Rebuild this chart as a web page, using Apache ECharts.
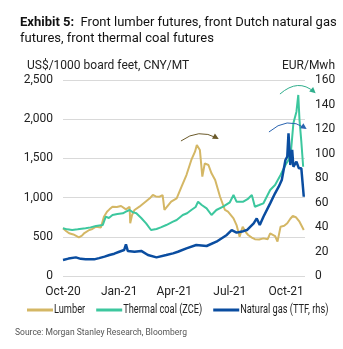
<!DOCTYPE html>
<html>
<head>
<meta charset="utf-8">
<script src="https://cdn.jsdelivr.net/npm/echarts@6/dist/echarts.min.js"></script>
<style>
  html, body { margin: 0; padding: 0; background: #fff; }
  #chart { width: 343px; height: 349px; }
</style>
</head>
<body>
<div id="chart"></div>
<script>
// Front lumber futures (US$/1000 board feet)
const lumber = [
  ['2020-10-01', 608], ['2020-10-06', 575], ['2020-10-11', 545], ['2020-10-18', 530],
  ['2020-10-27', 494], ['2020-11-01', 515], ['2020-11-05', 548], ['2020-11-13', 587],
  ['2020-11-18', 600], ['2020-11-24', 629], ['2020-12-02', 620], ['2020-12-07', 757],
  ['2020-12-12', 820], ['2020-12-16', 850], ['2020-12-21', 884], ['2020-12-28', 880],
  ['2021-01-04', 893], ['2021-01-12', 850], ['2021-01-18', 884], ['2021-01-19', 672],
  ['2021-01-22', 778], ['2021-01-26', 842], ['2021-02-03', 884], ['2021-02-11', 935],
  ['2021-02-20', 991], ['2021-02-25', 1033], ['2021-03-02', 1015], ['2021-03-08', 1011],
  ['2021-03-13', 1033], ['2021-03-15', 1010], ['2021-03-16', 842], ['2021-03-22', 900],
  ['2021-03-27', 948], ['2021-04-05', 991], ['2021-04-13', 1139], ['2021-04-21', 1288],
  ['2021-04-29', 1480], ['2021-05-05', 1586], ['2021-05-08', 1671], ['2021-05-13', 1607],
  ['2021-05-17', 1267], ['2021-05-21', 1437], ['2021-05-27', 1416], ['2021-06-01', 1310],
  ['2021-06-07', 1224], ['2021-06-15', 1011], ['2021-06-23', 842], ['2021-06-28', 820],
  ['2021-07-07', 736], ['2021-07-12', 650], ['2021-07-17', 501], ['2021-07-22', 629],
  ['2021-07-27', 560], ['2021-07-31', 523], ['2021-08-06', 490], ['2021-08-11', 470],
  ['2021-08-18', 465], ['2021-08-25', 480], ['2021-09-01', 470], ['2021-09-05', 545],
  ['2021-09-13', 510], ['2021-09-17', 438], ['2021-09-22', 629], ['2021-09-28', 640],
  ['2021-10-03', 672], ['2021-10-08', 730], ['2021-10-12', 765], ['2021-10-17', 750],
  ['2021-10-23', 693], ['2021-10-30', 587]
];

// Front thermal coal futures, ZCE (CNY/MT)
const thermalCoal = [
  ['2020-10-01', 608], ['2020-10-08', 595], ['2020-10-16', 587], ['2020-10-25', 595],
  ['2020-11-07', 608], ['2020-11-15', 620], ['2020-11-24', 638], ['2020-12-05', 650],
  ['2020-12-10', 757], ['2020-12-15', 740], ['2020-12-21', 778], ['2020-12-29', 790],
  ['2021-01-07', 800], ['2021-01-12', 820], ['2021-01-18', 842], ['2021-01-23', 815],
  ['2021-01-29', 800], ['2021-02-06', 740], ['2021-02-14', 672], ['2021-02-22', 587],
  ['2021-03-03', 600], ['2021-03-10', 620], ['2021-03-19', 650], ['2021-03-30', 693],
  ['2021-04-05', 714], ['2021-04-15', 778], ['2021-04-22', 800], ['2021-04-29', 842],
  ['2021-05-06', 880], ['2021-05-10', 948], ['2021-05-16', 906], ['2021-05-24', 863],
  ['2021-06-01', 778], ['2021-06-09', 842], ['2021-06-20', 884], ['2021-07-01', 940],
  ['2021-07-07', 1033], ['2021-07-12', 948], ['2021-07-23', 948], ['2021-07-30', 980],
  ['2021-08-06', 1033], ['2021-08-11', 884], ['2021-08-18', 905], ['2021-08-25', 927],
  ['2021-09-05', 1097], ['2021-09-13', 1161], ['2021-09-22', 1288], ['2021-09-30', 1416],
  ['2021-10-05', 1480], ['2021-10-09', 1586], ['2021-10-13', 1948], ['2021-10-18', 2096],
  ['2021-10-21', 2309], ['2021-10-23', 1990], ['2021-10-26', 1713], ['2021-10-29', 1394]
];

// Front Dutch natural gas futures, TTF (EUR/MWh, right axis)
const naturalGas = [
  ['2020-10-01', 13.1], ['2020-10-10', 14.2], ['2020-10-22', 15.2], ['2020-10-30', 14.0],
  ['2020-11-07', 13.6], ['2020-11-21', 13.6], ['2020-11-29', 14.6], ['2020-12-08', 15.8],
  ['2020-12-16', 17.1], ['2020-12-24', 18.2], ['2021-01-01', 19.8], ['2021-01-09', 21.2],
  ['2021-01-12', 25.8], ['2021-01-15', 20.5], ['2021-01-26', 19.8], ['2021-02-06', 20.5],
  ['2021-02-17', 17.1], ['2021-03-03', 15.2], ['2021-03-19', 17.1], ['2021-03-30', 18.5],
  ['2021-04-07', 19.8], ['2021-04-21', 22.6], ['2021-05-07', 25.3], ['2021-05-24', 24.5],
  ['2021-06-09', 28.0], ['2021-06-26', 33.5], ['2021-07-04', 37.5], ['2021-07-12', 35.4],
  ['2021-07-23', 36.6], ['2021-07-29', 37.5], ['2021-08-09', 43.0], ['2021-08-14', 47.0],
  ['2021-08-19', 41.6], ['2021-08-25', 48.4], ['2021-09-05', 59.3], ['2021-09-13', 67.5],
  ['2021-09-19', 72.9], ['2021-09-24', 78.4], ['2021-09-30', 94.7], ['2021-10-03', 97.4],
  ['2021-10-05', 116.5], ['2021-10-08', 90.6], ['2021-10-11', 102.9], ['2021-10-13', 89.2],
  ['2021-10-18', 93.3], ['2021-10-22', 87.9], ['2021-10-26', 87.9], ['2021-10-30', 64.7]
];

// Quarter starts shown on the date axis
const quarterTicks = ['2020-10-01', '2021-01-01', '2021-04-01', '2021-07-01', '2021-10-01'];
const monthNames = ['Jan', 'Feb', 'Mar', 'Apr', 'May', 'Jun', 'Jul', 'Aug', 'Sep', 'Oct', 'Nov', 'Dec'];

// Series names and colours
const seriesNames = ['Lumber', 'Thermal coal (ZCE)', 'Natural gas (TTF, rhs)'];
const seriesColors = ['#d4b765', '#3cc79e', '#0a4da0'];

// Curved arrows: start, control and end points in (date, left-axis value)
const arrows = [
  { color: '#6b5a2a', from: ['2021-04-12', 1722], ctrl: ['2021-05-11', 1888], to: ['2021-06-10', 1760] },
  { color: '#2fae8c', from: ['2021-09-21', 2321], ctrl: ['2021-10-21', 2525], to: ['2021-11-16', 2347] },
  { color: '#2a64b0', from: ['2021-09-03', 1837], ctrl: ['2021-10-03', 2041], to: ['2021-11-01', 1888] }
];

const FONT = 'Roboto';
const ts = s => new Date(s + 'T00:00:00Z').getTime();
const toPairs = arr => arr.map(d => [ts(d[0]), d[1]]);

const chart = echarts.init(document.getElementById('chart'), null, { renderer: 'canvas' });

// Legend row: short line swatch followed by a slightly condensed label
const measureCtx = document.createElement('canvas').getContext('2d');
measureCtx.font = '12px ' + FONT;
const LEGEND_SCALE = 0.77;
const legendGraphics = [];
let lx = 27;
seriesNames.forEach((name, i) => {
  legendGraphics.push({
    type: 'rect', silent: true,
    shape: { x: lx, y: 308.5, width: 26, height: 3 },
    style: { fill: seriesColors[i] }
  });
  lx += 27;
  legendGraphics.push({
    type: 'text', silent: true, x: lx, y: 310, scaleX: LEGEND_SCALE,
    style: { text: name, fontFamily: FONT, fontSize: 12, fill: '#222', verticalAlign: 'middle', align: 'left' }
  });
  lx += measureCtx.measureText(name).width * LEGEND_SCALE + 11;
});

const option = {
  backgroundColor: '#ffffff',
  animation: false,
  textStyle: { fontFamily: FONT },
  title: {
    left: 15, top: 10,
    text: '{b|Exhibit 5:}  Front lumber futures, front Dutch natural gas\nfutures, front thermal coal futures',
    textStyle: {
      fontFamily: FONT, fontSize: 13, fontWeight: 'normal', color: '#111', lineHeight: 16,
      rich: { b: { fontFamily: FONT, fontSize: 13, fontWeight: 'bold', color: '#111', lineHeight: 16 } }
    }
  },
  grid: { left: 63, right: 38, top: 80, bottom: 73, containLabel: false },
  xAxis: {
    type: 'value',
    min: ts('2020-10-01'), max: ts('2021-11-01'),
    axisLine: { show: false },
    axisTick: { show: false },
    splitLine: { show: false },
    axisLabel: {
      customValues: quarterTicks.map(ts),
      margin: 10,
      fontFamily: FONT, fontSize: 12, color: '#222',
      hideOverlap: false,
      formatter: v => {
        const d = new Date(v);
        return monthNames[d.getUTCMonth()] + '-' + String(d.getUTCFullYear()).slice(2);
      }
    }
  },
  yAxis: [
    {
      type: 'value', min: 0, max: 2500, interval: 500,
      axisLine: { show: false }, axisTick: { show: false },
      splitLine: { lineStyle: { color: '#d9d9d9', width: 1 } },
      axisLabel: {
        margin: 10, fontFamily: FONT, fontSize: 12, color: '#222',
        formatter: v => v.toLocaleString('en-US')
      }
    },
    {
      type: 'value', min: 0, max: 160, interval: 20,
      axisLine: { show: false }, axisTick: { show: false }, splitLine: { show: false },
      axisLabel: { margin: 10, fontFamily: FONT, fontSize: 12, color: '#222' }
    }
  ],
  graphic: [
    { type: 'text', left: 27, top: 60, style: { text: 'US$/1000 board feet, CNY/MT', fontFamily: FONT, fontSize: 12, fill: '#222' } },
    { type: 'text', right: 8, top: 60, style: { text: 'EUR/Mwh', fontFamily: FONT, fontSize: 12, fill: '#222' } },
    { type: 'text', left: 15, top: 328, style: { text: 'Source: Morgan Stanley Research, Bloomberg', fontFamily: FONT, fontSize: 8.5, fill: '#555' } }
  ].concat(legendGraphics),
  series: seriesNames.map((name, i) => ({
    name, type: 'line', yAxisIndex: i === 2 ? 1 : 0, showSymbol: false, symbol: 'none',
    data: toPairs([lumber, thermalCoal, naturalGas][i]), color: seriesColors[i],
    lineStyle: { color: seriesColors[i], width: i === 2 ? 2.5 : 2 }, z: 2 + i
  }))
};

chart.setOption(option);

// Annotation arrows placed through the chart's own coordinate system
const px = p => chart.convertToPixel({ gridIndex: 0, xAxisIndex: 0, yAxisIndex: 0 }, [ts(p[0]), p[1]]);
const arrowGraphics = [];
arrows.forEach(a => {
  const p0 = px(a.from), pc = px(a.ctrl), p1 = px(a.to);
  arrowGraphics.push({
    type: 'bezierCurve', silent: true, z: 10,
    shape: { x1: p0[0], y1: p0[1], cpx1: pc[0], cpy1: pc[1], x2: p1[0], y2: p1[1] },
    style: { stroke: a.color, lineWidth: 1, fill: null }
  });
  const dx = p1[0] - pc[0], dy = p1[1] - pc[1];
  const len = Math.sqrt(dx * dx + dy * dy);
  const ux = dx / len, uy = dy / len;
  const hl = 6, hw = 3;
  const tip = [p1[0] + ux * 2, p1[1] + uy * 2];
  const base = [tip[0] - ux * hl, tip[1] - uy * hl];
  arrowGraphics.push({
    type: 'polygon', silent: true, z: 10,
    shape: { points: [tip, [base[0] - uy * hw, base[1] + ux * hw], [base[0] + uy * hw, base[1] - ux * hw]] },
    style: { fill: a.color }
  });
});
chart.setOption({ graphic: option.graphic.concat(arrowGraphics) });
</script>
</body>
</html>
